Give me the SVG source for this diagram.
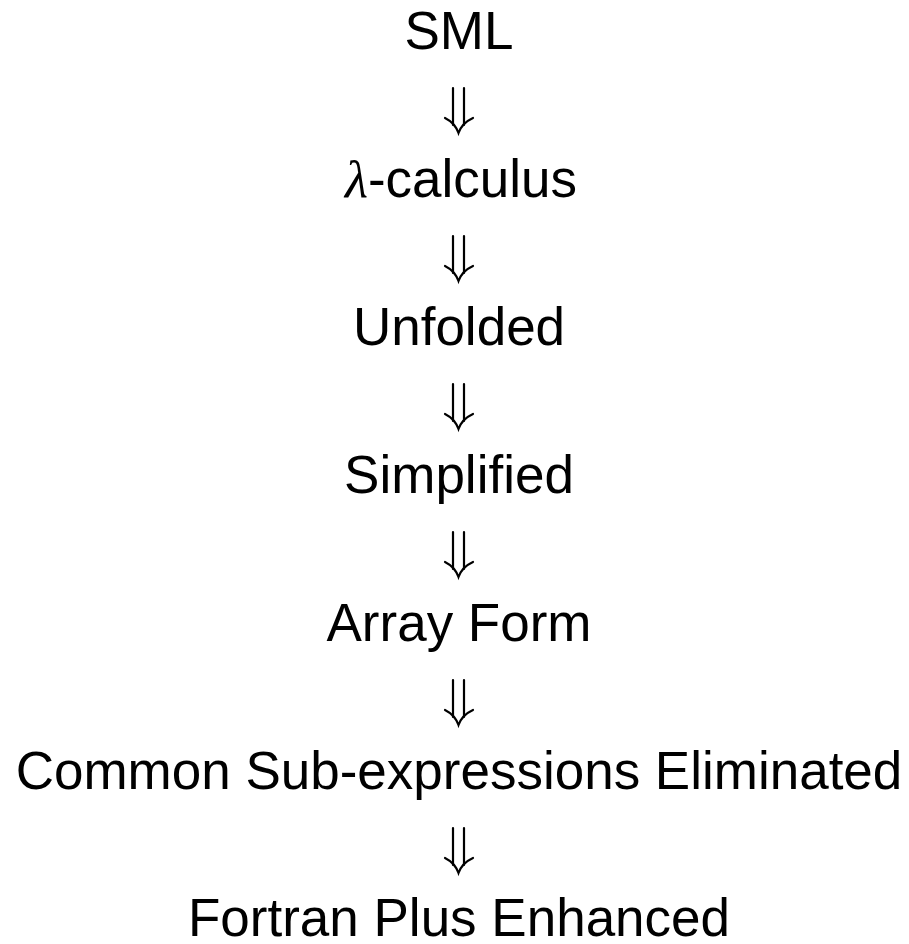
<svg xmlns="http://www.w3.org/2000/svg" width="909" height="944" viewBox="0 0 909 944">
<style>
text{font-family:"Liberation Sans",Arial,sans-serif;font-size:53px;fill:#000;text-anchor:middle}
.lam{font-family:"Liberation Serif","Times New Roman",serif;font-style:italic}
</style>
<defs>
<g id="dn" fill="none" stroke="#000" stroke-width="2.2" stroke-linecap="round">
<path d="M453 0 V37 M464 0 V37"/>
<path d="M445 30 Q455 35 458.5 45 Q462 35 473 30"/>
</g>
</defs>
<rect width="909" height="944" fill="#fff"/>
<g id="n1"><text x="459" y="49">SML</text></g>
<g id="n2"><text x="461" y="197"><tspan class="lam">λ</tspan>-calculus</text></g>
<g id="n3"><text x="459" y="345">Unfolded</text></g>
<g id="n4"><text x="459" y="493">Simplified</text></g>
<g id="n5"><text x="459" y="641">Array Form</text></g>
<g id="n6"><text x="459" y="789">Common Sub-expressions Eliminated</text></g>
<g id="n7"><text x="459" y="936">Fortran Plus Enhanced</text></g>
<g id="connectors">
<use href="#dn" y="88"/>
<use href="#dn" y="236"/>
<use href="#dn" y="384"/>
<use href="#dn" y="532"/>
<use href="#dn" y="680"/>
<use href="#dn" y="828"/>
</g>
</svg>
